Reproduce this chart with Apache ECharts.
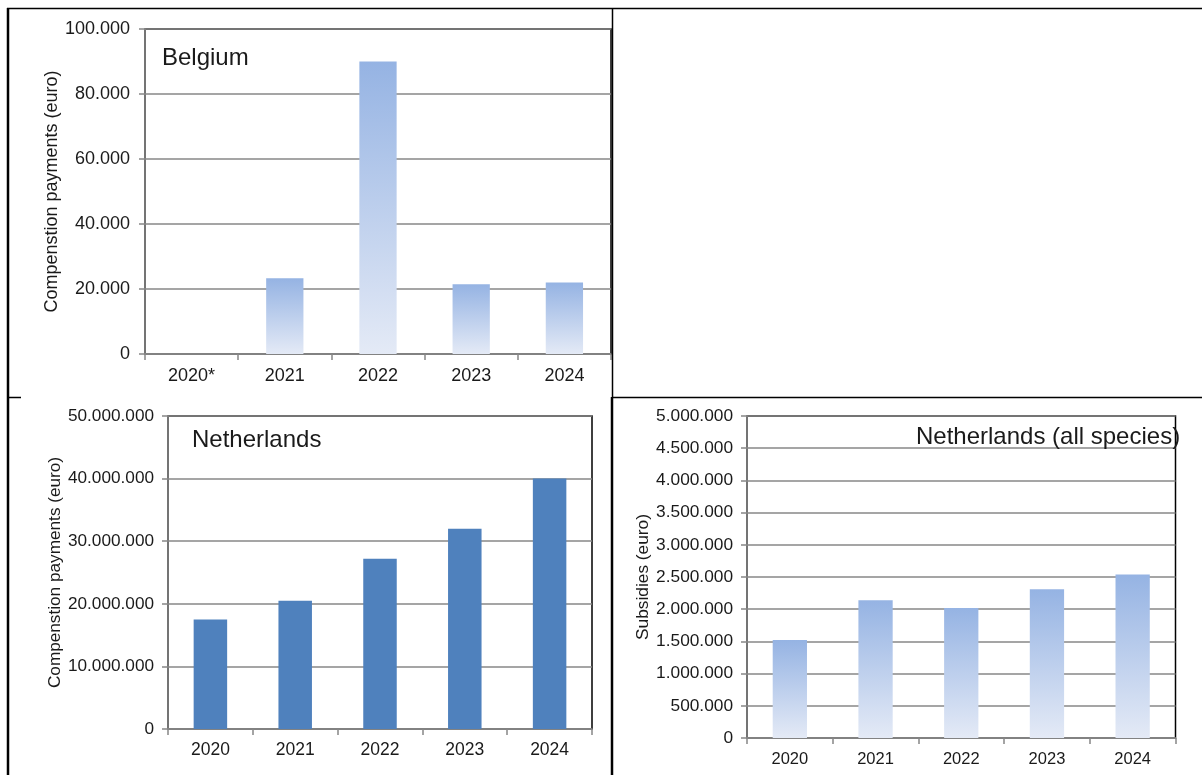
<!DOCTYPE html>
<html>
<head>
<meta charset="utf-8">
<script src="https://cdn.jsdelivr.net/npm/echarts@6/dist/echarts.min.js"></script>
<style>
  html, body { margin: 0; padding: 0; background: #fff; }
  #chart { width: 1202px; height: 775px; }
</style>
</head>
<body>
<div id="chart"></div>
<script>
// Category labels
const belgiumYears = ['2020*', '2021', '2022', '2023', '2024'];
const nlYears = ['2020', '2021', '2022', '2023', '2024'];

// Compensation payments, Belgium (euro); no payment shown for 2020*
const belgiumPayments = [null, 23300, 90000, 21500, 22000];
// Compensation payments, Netherlands (euro)
const nlPayments = [17500000, 20500000, 27200000, 32000000, 40000000];
// Subsidies, Netherlands, all species (euro)
const nlSubsidies = [1520000, 2140000, 2020000, 2310000, 2540000];

// Axis ranges
const belgiumAxis = { min: 0, max: 100000, interval: 20000 };
const nlPaymentsAxis = { min: 0, max: 50000000, interval: 10000000 };
const nlSubsidiesAxis = { min: 0, max: 5000000, interval: 500000 };

const FONT = '"Liberation Sans", Arial, sans-serif';
const TEXT = '#1a1a1a';
const GRID_GRAY = '#878787';

function dotted(v) {
  return String(Math.round(v)).replace(/\B(?=(\d{3})+(?!\d))/g, '.');
}

function gradientBlue() {
  return new echarts.graphic.LinearGradient(0, 0, 0, 1, [
    { offset: 0, color: '#95b3e3' },
    { offset: 1, color: '#e4eaf6' }
  ]);
}

function xAxisFor(gridIndex, data, fontSize, labelMargin) {
  return {
    type: 'category', gridIndex, data,
    axisLine: { lineStyle: { color: GRID_GRAY, width: 1.5 } },
    axisTick: { show: true, length: 6, lineStyle: { color: GRID_GRAY, width: 1.5 } },
    axisLabel: { color: TEXT, fontFamily: FONT, fontSize, margin: labelMargin },
    splitLine: { show: false }
  };
}

function yAxisFor(gridIndex, range, name, nameGap, fontSize, labelMargin) {
  return {
    type: 'value', gridIndex,
    min: range.min, max: range.max, interval: range.interval,
    name, nameLocation: 'middle', nameGap, nameRotate: 90,
    nameTextStyle: { color: TEXT, fontFamily: FONT, fontSize },
    axisLine: { show: true, lineStyle: { color: GRID_GRAY, width: 1.5 } },
    axisTick: { show: true, length: 6, lineStyle: { color: GRID_GRAY, width: 1.5 } },
    axisLabel: { color: TEXT, fontFamily: FONT, fontSize, margin: labelMargin, formatter: dotted },
    splitLine: { show: true, lineStyle: { color: GRID_GRAY, width: 1.5 } }
  };
}

function panelTitle(text, left, top) {
  return {
    text, left, top, padding: 0,
    textStyle: { fontFamily: FONT, fontSize: 24, fontWeight: 'normal', color: TEXT }
  };
}

// Table cell rules framing the three panels
function rule(x1, y1, x2, y2, w) {
  return { type: 'line', shape: { x1, y1, x2, y2 }, style: { stroke: '#000', lineWidth: w }, z: 100 };
}

const chart = echarts.init(document.getElementById('chart'), null, { renderer: 'canvas' });

const frame = { show: true, borderColor: '#000', borderWidth: 1.5, backgroundColor: 'transparent' };

chart.setOption({
  animation: false,
  backgroundColor: '#fff',
  grid: [
    Object.assign({ left: 145, top: 29, width: 466, height: 325 }, frame),
    Object.assign({ left: 168, top: 416, width: 424, height: 313 }, frame),
    Object.assign({ left: 747, top: 416, width: 428.5, height: 322 }, frame)
  ],
  xAxis: [
    xAxisFor(0, belgiumYears, 18, 13),
    xAxisFor(1, nlYears, 17.5, 12),
    xAxisFor(2, nlYears, 16.5, 12.5)
  ],
  yAxis: [
    yAxisFor(0, belgiumAxis, 'Compenstion payments (euro)', 83, 18, 15),
    yAxisFor(1, nlPaymentsAxis, 'Compenstion payments (euro)', 103, 17.2, 14),
    yAxisFor(2, nlSubsidiesAxis, 'Subsidies (euro)', 93, 17.3, 14)
  ],
  title: [
    panelTitle('Belgium', 162, 46),
    panelTitle('Netherlands', 192, 428),
    panelTitle('Netherlands (all species)', 916, 425)
  ],
  series: [
    { type: 'bar', xAxisIndex: 0, yAxisIndex: 0, data: belgiumPayments, barWidth: '40%', itemStyle: { color: gradientBlue() } },
    { type: 'bar', xAxisIndex: 1, yAxisIndex: 1, data: nlPayments, barWidth: '39.5%', itemStyle: { color: '#4f81bd' } },
    { type: 'bar', xAxisIndex: 2, yAxisIndex: 2, data: nlSubsidies, barWidth: '40%', itemStyle: { color: gradientBlue() } }
  ],
  graphic: [
    rule(7, 8.5, 1202, 8.5, 1.5),
    rule(8, 8, 8, 775, 2.5),
    rule(612.5, 8, 612.5, 397, 1.5),
    rule(612, 397, 612, 775, 2.5),
    rule(612, 397.5, 1202, 397.5, 1.5),
    rule(8, 397.5, 21, 397.5, 1.5)
  ]
});
</script>
</body>
</html>
